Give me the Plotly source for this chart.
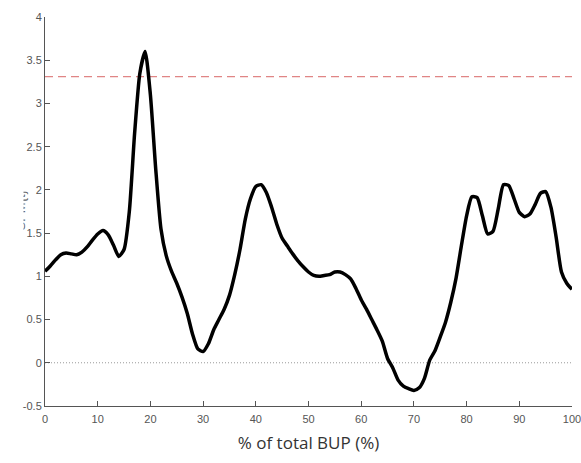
import plotly.graph_objects as go

x_pct = list(range(0, 101))
spm_t = [1.06, 1.12, 1.19, 1.25, 1.27, 1.26, 1.25, 1.28, 1.34, 1.42,
         1.49, 1.53, 1.48, 1.36, 1.23, 1.31, 1.75, 2.65, 3.35, 3.60,
         3.10, 2.25, 1.55, 1.24, 1.06, 0.92, 0.76, 0.57, 0.33, 0.16,
         0.13, 0.22, 0.38, 0.50, 0.62, 0.78, 1.02, 1.31, 1.66, 1.90,
         2.04, 2.06, 1.97, 1.80, 1.60, 1.44, 1.35, 1.26, 1.18, 1.11,
         1.05, 1.01, 1.00, 1.01, 1.02, 1.05, 1.05, 1.02, 0.97, 0.86,
         0.73, 0.62, 0.50, 0.38, 0.25, 0.05, -0.06, -0.20, -0.27, -0.30,
         -0.32, -0.29, -0.18, 0.03, 0.14, 0.30, 0.47, 0.70, 0.98, 1.35,
         1.70, 1.92, 1.91, 1.70, 1.49, 1.52, 1.78, 2.06, 2.05, 1.90,
         1.74, 1.69, 1.72, 1.83, 1.96, 1.98, 1.80, 1.45, 1.05, 0.92,
         0.85]
threshold = 3.31
x_ticks = [0, 10, 20, 30, 40, 50, 60, 70, 80, 90, 100]
y_ticks = [-0.5, 0, 0.5, 1, 1.5, 2, 2.5, 3, 3.5, 4]
y_tick_labels = ["-0.5", "0", "0.5", "1", "1.5", "2", "2.5", "3", "3.5", "4"]

fig = go.Figure()
# zero reference line
fig.add_trace(go.Scatter(x=[0, 100], y=[0, 0], mode="lines",
                         line=dict(color="#999999", width=1, dash="1px,2px"),
                         hoverinfo="skip", showlegend=False))
# critical threshold
fig.add_trace(go.Scatter(x=[0, 100], y=[threshold, threshold], mode="lines",
                         line=dict(color="#e08585", width=1.3, dash="8px,5px"),
                         hoverinfo="skip", showlegend=False))
# SPM{t} curve
fig.add_trace(go.Scatter(x=x_pct, y=spm_t, mode="lines",
                         line=dict(color="black", width=3.5, shape="spline", smoothing=0.6),
                         showlegend=False))

axis_common = dict(showgrid=False, zeroline=False, showline=True,
                   linecolor="#555555", linewidth=1, ticks="inside",
                   ticklen=5, tickcolor="#555555", tickwidth=1, automargin=False,
                   ticklabeloverflow="allow",
                   tickfont=dict(family="Liberation Sans, Arial", size=11, color="#555555"))

fig.update_xaxes(range=[0, 100], tickvals=x_ticks, ticklabelstandoff=3, **axis_common,
                 title=dict(text="% of total BUP (%)",
                            font=dict(family="Open Sans", size=17, color="#333333"),
                            standoff=12))
fig.update_yaxes(range=[-0.5, 4], tickvals=y_ticks, ticktext=y_tick_labels,
                 **axis_common)

# partially visible (clipped) y-axis label
fig.add_annotation(text="SPM{t}", textangle=-90, xref="paper", yref="paper",
                   x=(10 - 45) / 527, y=(406 - 210) / 389, showarrow=False,
                   font=dict(family="Liberation Sans, Arial", size=13, color="#666666"))
fig.add_annotation(text=" ", xref="paper", yref="paper",
                   x=(7 - 45) / 527, y=(406 - 210) / 389, showarrow=False,
                   width=15, height=90, bgcolor="white", borderpad=0)

fig.update_layout(width=581, height=463, plot_bgcolor="white", paper_bgcolor="white",
                  margin=dict(l=45, r=9, t=17, b=57, autoexpand=False))

fig.write_html("out.html", config={"displayModeBar": False},
               post_script="document.body.style.margin='0';document.body.style.overflow='hidden';")
